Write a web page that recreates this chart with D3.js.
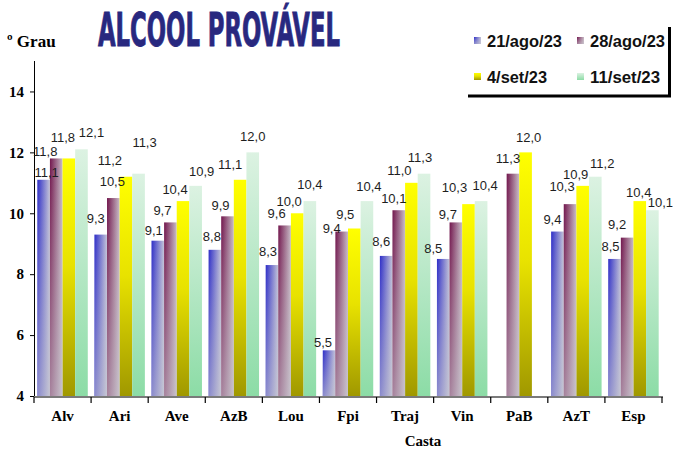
<!DOCTYPE html>
<html>
<head>
<meta charset="utf-8">
<script src="https://cdnjs.cloudflare.com/ajax/libs/d3/7.8.5/d3.min.js"></script>
<style>
  body { margin: 0; background: #fff; }
  svg { display: block; }
  .serif { font-family: "Liberation Serif", "Times New Roman", "DejaVu Serif", serif; font-weight: bold; }
</style>
</head>
<body>
<div id="vis"></div>
<script>
// categories (castas) and the four sampling dates
const castas = ["Alv", "Ari", "Ave", "AzB", "Lou", "Fpi", "Traj", "Vin", "PaB", "AzT", "Esp"];
const datas = ["21/ago/23", "28/ago/23", "4/set/23", "11/set/23"];

const ago21 = [11.1, 9.3, 9.1, 8.8, 8.3, 5.5, 8.6, 8.5, null, 9.4, 8.5];
const ago28 = [11.8, 10.5, 9.7, 9.9, 9.6, 9.4, 10.1, 9.7, 11.3, 10.3, 9.2];
const set4  = [11.8, 11.2, 10.4, 11.1, 10.0, 9.5, 11.0, 10.3, 12.0, 10.9, 10.4];
const set11 = [12.1, 11.3, 10.9, 12.0, 10.4, 10.4, 11.3, 10.4, null, 11.2, 10.1];

const yTicks = [4, 6, 8, 10, 12, 14];

// label nudges [dx, distance above bar top] as they sit in the original
const nudge = [
  [[3,3],[-11,2],[-6,16],[10,12]],
  [[-5,12],[-1,12],[-16,12],[6,27]],
  [[-4,6],[-8,7],[-8,7],[6,10]],
  [[-3,9],[-7,6],[-10,11],[0,11]],
  [[-4,9],[-8,7],[-8,7],[0,12]],
  [[-6,3],[-10,-1],[-9,10],[2,10]],
  [[-5,10],[-5,7],[-12,8],[-4,12]],
  [[-10,6],[-8,3],[-14,12],[4,11]],
  [[0,0],[-5,11],[3,10],[0,0]],
  [[-5,8],[-8,13],[-7,7],[7,9]],
  [[-4,8],[-10,9],[-1,4],[8,3]]
];

const series = [ago21, ago28, set4, set11];

const width = 673, height = 452;
const mLeft = 34, mRight = 662, mTop = 61, mBottom = 396;

const svg = d3.select("#vis").append("svg")
  .attr("width", width).attr("height", height)
  .style("font-family", "'Liberation Sans', Arial, sans-serif");

// gradients
const defs = svg.append("defs");
function hGrad(id, c1, c2) {
  const g = defs.append("linearGradient").attr("id", id)
    .attr("x1", 0).attr("y1", 0).attr("x2", 1).attr("y2", 0);
  g.append("stop").attr("offset", "0%").attr("stop-color", c1);
  g.append("stop").attr("offset", "100%").attr("stop-color", c2);
}
function vGrad(id, stops) {
  const g = defs.append("linearGradient").attr("id", id)
    .attr("x1", 0).attr("y1", 0).attr("x2", 0).attr("y2", 1);
  stops.forEach(s => g.append("stop").attr("offset", s[0]).attr("stop-color", s[1]).attr("stop-opacity", s[2] == null ? 1 : s[2]));
}
hGrad("g0", "#2e2ec8", "#c4c4d8");
hGrad("g1", "#72164d", "#c8bcc6");
vGrad("g2", [["0%", "#ffff00"], ["45%", "#e8e200"], ["100%", "#a09800"]]);
vGrad("g3", [["0%", "#dcf2e2"], ["100%", "#8cdca6"]]);
vGrad("fade", [["0%", "#c8c8d0", 0], ["100%", "#c8c8d0", 0.6]]);
const fills = ["url(#g0)", "url(#g1)", "url(#g2)", "url(#g3)"];

const x0 = d3.scaleBand().domain(castas).range([mLeft, mRight]).padding(0);
const bw = x0.bandwidth();
const x1 = d3.scaleBand().domain(d3.range(4)).range([bw * 0.058, bw * 0.942]).padding(0);
const y = d3.scaleLinear().domain([4, 15]).range([mBottom, mTop]);

const points = [];
castas.forEach((c, i) => series.forEach((s, k) => {
  if (s[i] != null) points.push({ c: c, i: i, k: k, v: s[i] });
}));
const bx = d => x0(d.c) + x1(d.k);

// bars
const bars = svg.append("g");
bars.selectAll("rect.bar").data(points).join("rect").attr("class", "bar")
  .attr("x", bx)
  .attr("y", d => y(d.v))
  .attr("width", x1.bandwidth())
  .attr("height", d => mBottom - y(d.v))
  .attr("fill", d => fills[d.k]);
bars.selectAll("rect.fade").data(points.filter(d => d.k < 2)).join("rect").attr("class", "fade")
  .attr("x", bx)
  .attr("y", d => y(d.v))
  .attr("width", x1.bandwidth())
  .attr("height", d => mBottom - y(d.v))
  .attr("fill", "url(#fade)");

// axes
const yAxis = svg.append("g")
  .attr("transform", `translate(${mLeft},0)`)
  .call(d3.axisLeft(y).tickValues(yTicks).tickSize(4).tickPadding(6).tickFormat(d3.format("d")));
yAxis.attr("font-family", null);
yAxis.select(".domain").attr("d", `M0.5,${mTop}V${mBottom}`).attr("stroke", "#000");
yAxis.selectAll("text").attr("class", "serif").style("font-size", "15px").attr("fill", "#000");

const xAxis = svg.append("g")
  .attr("transform", `translate(0,${mBottom})`)
  .call(d3.axisBottom(x0).tickSize(0).tickPadding(14));
xAxis.attr("font-family", null);
xAxis.select(".domain").remove();
xAxis.selectAll("text").attr("class", "serif").style("font-size", "15px").attr("fill", "#000");
svg.append("line")
  .attr("x1", mLeft).attr("x2", mRight + 1).attr("y1", mBottom + 1).attr("y2", mBottom + 1)
  .attr("stroke", "#7a7a7a").attr("stroke-width", 2);
svg.append("g").selectAll("line")
  .data(castas.concat(["_end"]))
  .join("line")
  .attr("x1", d => d === "_end" ? mRight : x0(d))
  .attr("x2", d => d === "_end" ? mRight : x0(d))
  .attr("y1", mBottom + 1).attr("y2", mBottom + 7)
  .attr("stroke", "#000").attr("stroke-width", 1.2);

// value labels on top of every bar
svg.append("g").selectAll("text").data(points).join("text")
  .attr("x", d => bx(d) + x1.bandwidth() / 2 + nudge[d.i][d.k][0])
  .attr("y", d => y(d.v) - nudge[d.i][d.k][1])
  .attr("text-anchor", "middle")
  .style("font-size", "13px")
  .attr("fill", "#1e1e1e")
  .text(d => d3.format(".1f")(d.v).replace(".", ","));

svg.append("text").attr("class", "serif")
  .attr("x", 423).attr("y", 446)
  .attr("text-anchor", "middle")
  .style("font-size", "15px")
  .text("Casta");

svg.append("text").attr("class", "serif")
  .attr("x", 7).attr("y", 47)
  .style("font-size", "17px")
  .text("º Grau");

// title: condensed and stretched upward like the original
svg.append("text")
  .attr("transform", "translate(98,46) scale(1,1.55)")
  .style("font-family", "'DejaVu Sans Condensed', 'DejaVu Sans', sans-serif")
  .style("font-weight", "bold").style("font-size", "30px")
  .attr("textLength", 242).attr("lengthAdjust", "spacingAndGlyphs")
  .attr("fill", "#28287f").attr("stroke", "#28287f").attr("stroke-width", 0.6)
  .text("ALCOOL PROVÁVEL");

// legend
const lg = svg.append("g");
lg.append("line").attr("x1", 468).attr("x2", 671).attr("y1", 96).attr("y2", 96)
  .attr("stroke", "#000").attr("stroke-width", 3);
lg.append("line").attr("x1", 669.5).attr("x2", 669.5).attr("y1", 27).attr("y2", 97)
  .attr("stroke", "#000").attr("stroke-width", 3);
const legPos = [[474, 47], [577, 47], [474, 83], [577, 83]];
const items = lg.selectAll("g.it").data(datas).join("g").attr("class", "it")
  .attr("transform", (d, i) => `translate(${legPos[i][0]},${legPos[i][1]})`);
items.append("rect").attr("x", 0).attr("y", -10).attr("width", 7).attr("height", 7)
  .attr("fill", (d, i) => fills[i]);
items.filter((d, i) => i < 2).append("rect").attr("x", 0).attr("y", -10).attr("width", 7).attr("height", 7)
  .attr("fill", "url(#fade)");
items.append("text").attr("x", 13).attr("y", 0)
  .style("font-weight", "bold").style("font-size", "16.5px")
  .attr("textLength", (d, i) => [75, 75, 60, 70][i]).attr("lengthAdjust", "spacingAndGlyphs")
  .attr("fill", "#111")
  .text(d => d);
</script>
</body>
</html>
